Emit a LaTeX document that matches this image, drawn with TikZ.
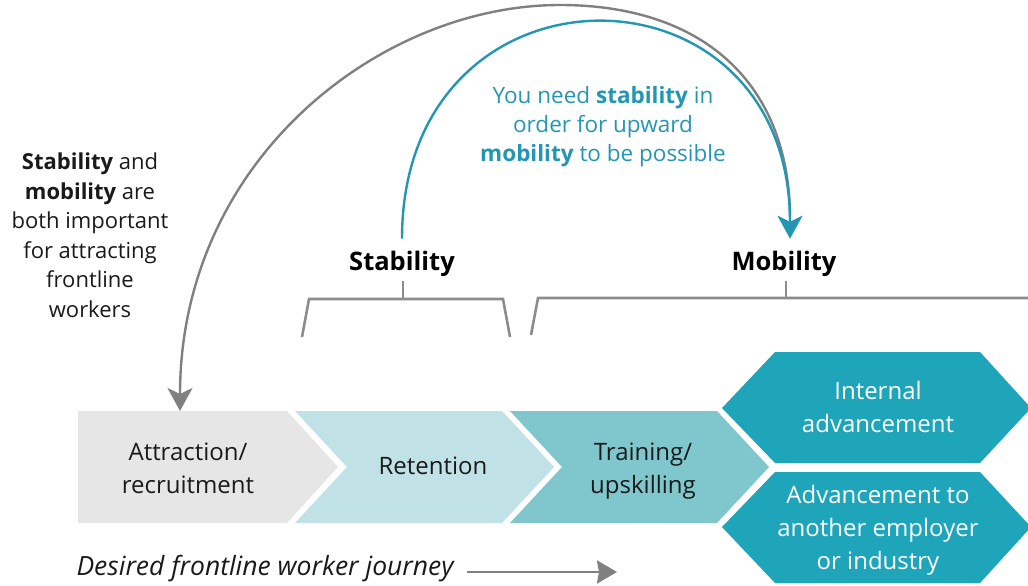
\documentclass[tikz,border=0pt]{standalone}
\usepackage{fontspec}
\setmainfont{Open Sans}
\usepackage{tikz}
\usetikzlibrary{arrows.meta}
\usetikzlibrary{positioning}
\definecolor{boxgray}{RGB}{230,230,230}
\definecolor{paleteal}{RGB}{192,226,231}
\definecolor{midteal}{RGB}{127,199,205}
\definecolor{darkteal}{RGB}{30,165,186}
\definecolor{textteal}{RGB}{35,150,180}
\definecolor{arcgray}{RGB}{128,128,128}
\definecolor{bracketgray}{RGB}{140,140,140}
\definecolor{inkblack}{RGB}{26,26,26}

\tikzset{
    steptext/.style={align=center, text=inkblack, font=\fontsize{24}{33}\selectfont},
    headtext/.style={text=black, font=\fontsize{25.5}{30}\selectfont\bfseries},
    sidetext/.style={align=center, text=inkblack, font=\fontsize{22}{29.5}\selectfont},
    bracket/.style={draw=bracketgray, line width=2.6pt},
    grayarc/.style={draw=arcgray, line width=2.4pt, -{Stealth[length=23pt, width=25pt, inset=6pt]}},
    tealarc/.style={draw=textteal, line width=2.4pt, -{Stealth[length=23pt, width=25pt, inset=6pt]}},
}

\begin{document}
\begin{tikzpicture}[x=1pt, y=-1pt]
    \useasboundingbox (0,0) rectangle (1028,586);

    % journey steps
    \fill[boxgray] (78,411) -- (287,411) -- (338,467) -- (287,523) -- (78,523) -- cycle;
    \fill[paleteal] (295,411) -- (502,411) -- (554,467) -- (502,523) -- (295,523) -- (347,467) -- cycle;
    \fill[midteal] (510,411) -- (717,411) -- (769,467) -- (717,523) -- (510,523) -- (562,467) -- cycle;
    \fill[darkteal] (722,408) -- (775,352) -- (980,352) -- (1031,408) -- (980,463) -- (775,463) -- cycle;
    \fill[darkteal] (722,527) -- (775,472) -- (980,472) -- (1031,527) -- (980,583) -- (775,583) -- cycle;

    \node[steptext] (attract) at (188,468) {Attraction/\\recruitment};
    \node[steptext] (retain) at (433,466) {Retention};
    \node[steptext] (train) at (643,471) {Training/\\upskilling};
    \node[steptext, text=white] (internal) at (878,407) {Internal\\advancement};
    \node[steptext, text=white] (external) at (878,530) {Advancement to\\another employer\\or industry};

    % labels
    \node[headtext] (stab) at (402,264) {Stability};
    \node[headtext] (mob) at (784,264) {Mobility};
    \node[sidetext] (both) at (90,235) {\textbf{Stability} and\\\textbf{mobility} are\\both important\\for attracting\\frontline\\workers};
    \node[sidetext, text=textteal, font=\fontsize{22.5}{29}\selectfont] (need) at (603,127) {You need \textbf{stability} in\\order for upward\\\textbf{mobility} to be possible};

    % brackets
    \draw[bracket] (302,337) -- (309,299) -- (503,299) -- (510,337);
    \draw[bracket] (403,299) -- (403,281);
    \draw[bracket] (531,335) -- (538,298) -- (1032,298);
    \draw[bracket] (786,298) -- (786,281);

    % arcs
    \coordinate (grayfrom) at (790,215);
    \coordinate (graytop) at (560,5);
    \coordinate (atttop) at (180,411);
    \draw[grayarc] (grayfrom) .. controls (788,80) and (700,5) .. (graytop)
        .. controls (380,5) and (180,160) .. (atttop);
    \draw[tealarc] ([yshift=9pt]stab.north) .. controls +(0,-288) and +(0,-288) .. ([xshift=6pt, yshift=9pt]mob.north);

    % journey arrow
    \node[sidetext, anchor=west, font=\fontsize{26.5}{30}\selectfont\itshape] (journey) at (73,569) {Desired frontline worker journey};
    \coordinate (journeyend) at (617,572);
    \draw[draw=arcgray, line width=2.8pt, -{Stealth[length=20pt, width=23pt, inset=2pt]}] ([xshift=10pt]journey.east |- journeyend) -- (journeyend);
\end{tikzpicture}
\end{document}
